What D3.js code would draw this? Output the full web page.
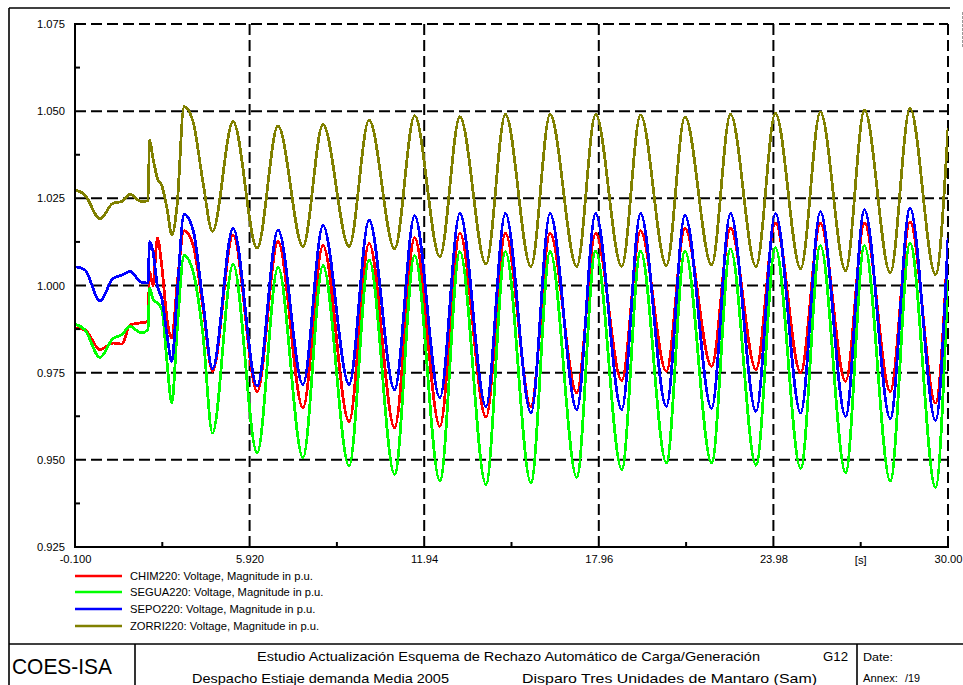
<!DOCTYPE html>
<html>
<head>
<meta charset="utf-8">
<script src="https://cdn.jsdelivr.net/npm/d3@7/dist/d3.min.js"></script>
<style>
  html, body { margin: 0; padding: 0; background: #fff; }
  svg { display: block; font-family: "Liberation Sans", Arial, sans-serif; }
</style>
</head>
<body>
<svg id="chart" width="963" height="685"></svg>
<script>
// Simulation time instants (s) shared by all four busbar voltage traces
const time = [
  -0.10, 0.24, 0.76, 1.21, 1.52, 1.80, 2.18, 2.42, 2.47, 2.59,
   2.74, 2.90, 3.07, 3.24, 3.42, 3.66, 3.97, 4.31, 4.64, 5.35,
   6.18, 6.90, 7.76, 8.45, 9.35, 10.04, 10.92, 11.61, 12.48, 13.17,
  14.07, 14.74, 15.62, 16.28, 17.20, 17.85, 18.75, 19.40, 20.29, 20.93,
  21.85, 22.50, 23.38, 24.05, 24.92, 25.60, 26.47, 27.12, 28.01, 28.69,
  29.57, 30.00
];

// Voltage magnitudes in p.u.
const chim220 = [
  0.9878, 0.9873, 0.9816, 0.9835, 0.9832, 0.9887, 0.9893, 0.9897, 1.0040, 1.0000,
  1.0136, 1.0050, 0.9905, 0.9849, 1.0000, 1.0157, 1.0117, 0.9940, 0.9754, 1.0145,
  0.9696, 1.0126, 0.9649, 1.0115, 0.9610, 1.0121, 0.9592, 1.0137, 0.9596, 1.0150,
  0.9622, 1.0150, 0.9653, 1.0150, 0.9692, 1.0150, 0.9727, 1.0157, 0.9754, 1.0164,
  0.9768, 1.0164, 0.9759, 1.0179, 0.9749, 1.0179, 0.9725, 1.0179, 0.9696, 1.0183,
  0.9663, 1.0131
];
const segua220 = [
  0.9889, 0.9873, 0.9794, 0.9848, 0.9859, 0.9883, 0.9864, 0.9873, 0.9993, 0.9960,
  0.9950, 0.9930, 0.9782, 0.9663, 0.9870, 1.0086, 1.0040, 0.9860, 0.9577, 1.0061,
  0.9520, 1.0052, 0.9506, 1.0057, 0.9482, 1.0074, 0.9458, 1.0086, 0.9439, 1.0097,
  0.9429, 1.0097, 0.9434, 1.0097, 0.9450, 1.0099, 0.9472, 1.0099, 0.9491, 1.0099,
  0.9491, 1.0105, 0.9484, 1.0109, 0.9475, 1.0115, 0.9463, 1.0115, 0.9439, 1.0121,
  0.9421, 1.0031
];
const sepo220 = [
  1.0054, 1.0045, 0.9956, 1.0020, 1.0030, 1.0040, 1.0010, 1.0007, 1.0126, 1.0097,
  1.0000, 0.9960, 0.9860, 0.9782, 0.9973, 1.0204, 1.0160, 0.9954, 0.9761, 1.0164,
  0.9711, 1.0160, 0.9716, 1.0172, 0.9716, 1.0188, 0.9701, 1.0200, 0.9678, 1.0207,
  0.9653, 1.0207, 0.9634, 1.0207, 0.9644, 1.0207, 0.9644, 1.0207, 0.9653, 1.0202,
  0.9648, 1.0207, 0.9639, 1.0207, 0.9634, 1.0212, 0.9625, 1.0217, 0.9618, 1.0222,
  0.9613, 1.0136
];
const zorri220 = [
  1.0274, 1.0260, 1.0191, 1.0236, 1.0241, 1.0262, 1.0241, 1.0243, 1.0417, 1.0365,
  1.0308, 1.0285, 1.0222, 1.0145, 1.0231, 1.0513, 1.0470, 1.0298, 1.0155, 1.0470,
  1.0107, 1.0458, 1.0112, 1.0462, 1.0112, 1.0475, 1.0105, 1.0487, 1.0083, 1.0484,
  1.0061, 1.0491, 1.0054, 1.0491, 1.0054, 1.0491, 1.0054, 1.0489, 1.0057, 1.0484,
  1.0059, 1.0491, 1.0054, 1.0494, 1.0048, 1.0498, 1.0042, 1.0503, 1.0036, 1.0508,
  1.0031, 1.0451
];

const seriesNames = [
  "CHIM220: Voltage, Magnitude in p.u.",
  "SEGUA220: Voltage, Magnitude in p.u.",
  "SEPO220: Voltage, Magnitude in p.u.",
  "ZORRI220: Voltage, Magnitude in p.u."
];
const seriesColors = ["#ff0000", "#00ff00", "#0000ff", "#808000"];
const seriesValues = [chim220, segua220, sepo220, zorri220];

const xTicks = [-0.1, 5.92, 11.94, 17.96, 23.98, 30.0];
const xTickLabels = ["-0.100", "5.920", "11.94", "17.96", "23.98", "30.00"];
const yTicks = [0.925, 0.95, 0.975, 1.0, 1.025, 1.05, 1.075];
const yTickLabels = ["0.925", "0.950", "0.975", "1.000", "1.025", "1.050", "1.075"];

const svg = d3.select("#chart");
const L = 75, R = 948, T = 24, B = 547;

const x = d3.scaleLinear().domain([-0.1, 30.0]).range([L, R]);
const y = d3.scaleLinear().domain([0.925, 1.075]).range([B, T]);

// Outer sheet frame
const frame = svg.append("g").attr("stroke", "#000").attr("stroke-width", 1.6).attr("fill", "none");
frame.append("line").attr("x1", 9).attr("x2", 9).attr("y1", 8).attr("y2", 685);
frame.append("line").attr("x1", 9).attr("x2", 950).attr("y1", 8).attr("y2", 8);
svg.append("line").attr("x1", 962.5).attr("x2", 962.5).attr("y1", 12).attr("y2", 47)
  .attr("stroke", "#999").attr("stroke-width", 1).attr("stroke-dasharray", "3,1");

// Dashed grid
const grid = svg.append("g").attr("stroke", "#000").attr("stroke-width", 2)
  .attr("stroke-dasharray", "11,5").attr("fill", "none");
grid.selectAll("line.gx").data(xTicks.slice(1)).join("line")
  .attr("x1", d => x(d)).attr("x2", d => x(d)).attr("y1", T).attr("y2", B);
grid.selectAll("line.gy").data(yTicks.slice(1)).join("line")
  .attr("x1", L).attr("x2", R).attr("y1", d => y(d)).attr("y2", d => y(d));

// Curves
svg.append("clipPath").attr("id", "plotClip").append("rect")
  .attr("x", L).attr("y", T - 2).attr("width", R - L).attr("height", B - T + 4);
const line = d3.line().x(d => x(d[0])).y(d => y(d[1])).curve(d3.curveMonotoneX);
const curves = svg.append("g").attr("clip-path", "url(#plotClip)");
seriesValues.forEach((vals, i) => {
  curves.append("path")
    .datum(time.map((t, k) => [t, vals[k]]))
    .attr("d", line)
    .attr("fill", "none")
    .attr("stroke", seriesColors[i])
    .attr("stroke-width", 2.8)
    .attr("stroke-linejoin", "round")
    .attr("shape-rendering", "crispEdges");
});

// Axes (solid left and bottom)
svg.append("line").attr("x1", L).attr("x2", L).attr("y1", T - 1).attr("y2", B + 1)
  .attr("stroke", "#000").attr("stroke-width", 2);
svg.append("line").attr("x1", L - 1).attr("x2", R + 1).attr("y1", B).attr("y2", B)
  .attr("stroke", "#000").attr("stroke-width", 2);

// Tick labels
const xAxis = d3.axisBottom(x).tickValues(xTicks).tickSize(0).tickPadding(8)
  .tickFormat((d, i) => xTickLabels[i]);
const gx = svg.append("g").attr("transform", `translate(0,${B})`).call(xAxis);
gx.select(".domain").remove();
gx.selectAll("text").attr("font-size", 11.2).attr("font-family", "Liberation Sans, Arial, sans-serif").attr("fill", "#000");

const yAxis = d3.axisLeft(y).tickValues(yTicks).tickSize(0).tickPadding(10)
  .tickFormat((d, i) => yTickLabels[i]);
const gy = svg.append("g").attr("transform", `translate(${L},0)`).call(yAxis);
gy.select(".domain").remove();
gy.selectAll("text").attr("font-size", 11.2).attr("font-family", "Liberation Sans, Arial, sans-serif").attr("fill", "#000");

// Minor ticks at the midpoints, pointing into the plot
const xMinor = d3.pairs(xTicks).map(p => (p[0] + p[1]) / 2);
const yMinor = d3.pairs(yTicks).map(p => (p[0] + p[1]) / 2);
svg.append("g").selectAll("line").data(xMinor).join("line")
  .attr("x1", d => x(d)).attr("x2", d => x(d)).attr("y1", B).attr("y2", B - 5)
  .attr("stroke", "#000").attr("stroke-width", 2);
svg.append("g").selectAll("line").data(yMinor).join("line")
  .attr("x1", L).attr("x2", L + 5).attr("y1", d => y(d)).attr("y2", d => y(d))
  .attr("stroke", "#000").attr("stroke-width", 2);

// Unit label on the last minor tick
svg.append("text").attr("x", x(xMinor[xMinor.length - 1])).attr("y", B + 17)
  .attr("text-anchor", "middle").attr("font-size", 11.2).text("[s]");

// Legend
const legendY = [576, 592, 609, 626];
const legend = svg.append("g");
seriesNames.forEach((name, i) => {
  legend.append("line").attr("x1", 75).attr("x2", 122)
    .attr("y1", legendY[i]).attr("y2", legendY[i])
    .attr("stroke", seriesColors[i]).attr("stroke-width", 2.5);
  legend.append("text").attr("x", 130).attr("y", legendY[i] + 4)
    .attr("font-size", 11.2).text(name);
});

// Title block
const tb = svg.append("g").attr("stroke", "#000").attr("stroke-width", 1.6);
tb.append("line").attr("x1", 9).attr("x2", 963).attr("y1", 644).attr("y2", 644);
tb.append("line").attr("x1", 135).attr("x2", 135).attr("y1", 644).attr("y2", 685);
tb.append("line").attr("x1", 857).attr("x2", 857).attr("y1", 644).attr("y2", 685);

function label(txt, px, py, size, width, anchor) {
  const t = svg.append("text").attr("x", px).attr("y", py).attr("font-size", size)
    .attr("text-anchor", anchor || "start").text(txt);
  if (width) t.attr("textLength", width).attr("lengthAdjust", "spacingAndGlyphs");
  return t;
}
label("COES-ISA", 12, 674, 21.5, 100);
label("Estudio Actualización Esquema de Rechazo Automático de Carga/Generación", 257, 661, 13.2, 503);
label("G12", 823, 661, 13.2, 25);
label("Despacho Estiaje demanda Media 2005", 192, 683, 13.2, 257);
label("Disparo Tres Unidades de Mantaro (Sam)", 522, 683, 13.2, 295);
label("Date:", 863, 661, 11, 30);
label("Annex:", 863, 682, 11, 35);
label("/19", 905, 682, 11, 15);
</script>
</body>
</html>
